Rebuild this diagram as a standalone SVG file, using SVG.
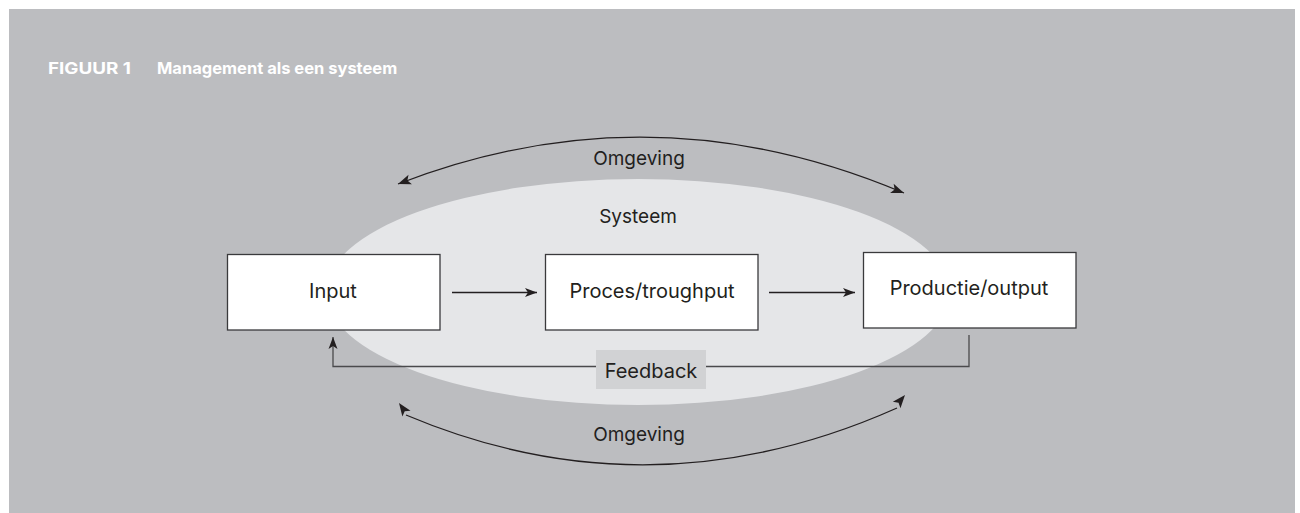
<svg xmlns="http://www.w3.org/2000/svg" width="1300" height="513" viewBox="0 0 1300 513">
<defs>
<style>
.t{font-family:Inter,"Noto Sans",sans-serif;font-size:19px;fill:#231f20;text-anchor:middle}
.b{font-size:20px}
.title{font-family:Inter,"Noto Sans",sans-serif;font-size:16.5px;font-weight:bold;fill:#ffffff}
.box{fill:#ffffff;stroke:#3a3a3c;stroke-width:1.3}
.ln{fill:none;stroke:#231f20;stroke-width:1.3}
.fb{fill:none;stroke:#4a4a4c;stroke-width:1.3}
.ah{fill:#231f20}
</style>
<path id="head" d="M0,0 L-13,-5 L-10,0 L-13,5 Z"/>
<marker id="arr" viewBox="-14 -6 15 12" refX="0" refY="0" markerWidth="15" markerHeight="12" markerUnits="userSpaceOnUse" orient="auto">
<path d="M0,0 L-12,-4.5 L-9,0 L-12,4.5 Z" fill="#231f20"/>
</marker>
</defs>
<rect x="0" y="0" width="1300" height="513" fill="#ffffff"/>
<rect x="9" y="9" width="1286" height="504" fill="#bcbdc0"/>
<text class="title" x="48" y="74" textLength="83" lengthAdjust="spacingAndGlyphs">FIGUUR 1</text>
<text class="title" x="157" y="74">Management als een systeem</text>
<ellipse id="systeem" cx="638" cy="292" rx="312" ry="113" fill="#e5e6e8"/>
<text class="t" x="638" y="223">Systeem</text>
<g id="connectors">
<path class="ln" d="M398,184 Q651,86 904,193"/>
<use href="#head" class="ah" transform="translate(398,184) rotate(160)"/>
<use href="#head" class="ah" transform="translate(904,193) rotate(21)"/>
<path class="ln" d="M406,415 Q650,518 897,408"/>
<use href="#head" class="ah" transform="translate(399,403) rotate(-125)"/>
<use href="#head" class="ah" transform="translate(905,395) rotate(-50)"/>
<line class="ln" x1="452" y1="292.5" x2="537" y2="292.5" marker-end="url(#arr)"/>
<line class="ln" x1="769" y1="292.5" x2="855" y2="292.5" marker-end="url(#arr)"/>
<polyline class="fb" points="969,335 969,366.5 333,366.5 333,337" marker-end="url(#arr)"/>
</g>
<text class="t" x="639" y="165">Omgeving</text>
<text class="t" x="639" y="441">Omgeving</text>
<g id="input">
<rect class="box" x="227.5" y="254.5" width="212.5" height="75.5"/>
<text class="t b" x="333" y="297.5">Input</text>
</g>
<g id="proces">
<rect class="box" x="545.5" y="254.5" width="212.5" height="75.5"/>
<text class="t b" x="652" y="297.5">Proces/troughput</text>
</g>
<g id="productie">
<rect class="box" x="863.5" y="252.5" width="212.5" height="75.5"/>
<text class="t b" x="969" y="294.5">Productie/output</text>
</g>
<g id="feedback">
<rect x="596" y="350" width="110" height="39" fill="#d1d2d4"/>
<text class="t b" x="651" y="377.5">Feedback</text>
</g>
</svg>
